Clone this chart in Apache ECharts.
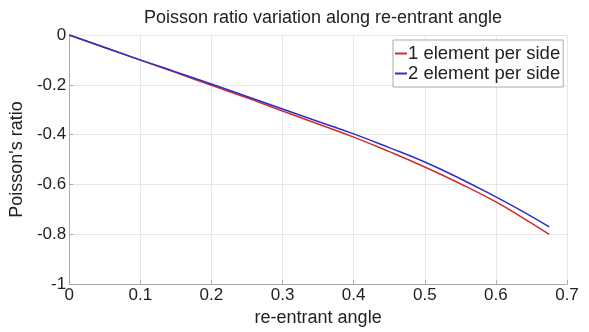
<!DOCTYPE html>
<html>
<head>
<meta charset="utf-8">
<script src="https://cdn.jsdelivr.net/npm/echarts@6/dist/echarts.min.js"></script>
<style>html,body{margin:0;padding:0;background:#fff;}#c{width:589px;height:332px;}</style>
</head>
<body>
<div id="c"></div>
<script>
const angles = [0, 0.05, 0.1, 0.15, 0.2, 0.25, 0.3, 0.35, 0.4, 0.45, 0.5, 0.55, 0.6, 0.635, 0.675];
const oneElement = [0, -0.05, -0.101, -0.151, -0.202, -0.252, -0.305, -0.357, -0.41, -0.468, -0.53, -0.597, -0.67, -0.729, -0.80];
const twoElement = [0, -0.05, -0.1, -0.148, -0.197, -0.247, -0.297, -0.347, -0.397, -0.452, -0.51, -0.577, -0.65, -0.704, -0.77];
const seriesNames = ['1 element per side', '2 element per side'];
const xTicks = ['0', '0.1', '0.2', '0.3', '0.4', '0.5', '0.6', '0.7'];
const yTicks = ['-1', '-0.8', '-0.6', '-0.4', '-0.2', '0'];

const font = 'Liberation Sans, Arial, sans-serif';
const chart = echarts.init(document.getElementById('c'), null, {renderer: 'canvas'});
chart.setOption({
  animation: false,
  backgroundColor: '#fff',
  title: {
    text: 'Poisson ratio variation along re-entrant angle',
    left: 318, top: 4, textAlign: 'center',
    textStyle: {fontFamily: font, fontSize: 18, fontWeight: 'normal', color: '#222'}
  },
  legend: {
    orient: 'vertical', left: 393, top: 40,
    backgroundColor: '#fff', borderColor: '#aaa', borderWidth: 1,
    padding: [4, 3, 4, 2], itemGap: 1,
    itemWidth: 12, itemHeight: 2, icon: 'rect',
    textStyle: {fontFamily: font, fontSize: 18.5, lineHeight: 18, color: '#222', padding: [0, 0, 0, -4]},
    data: seriesNames
  },
  grid: {left: 66, right: 22, top: 35, bottom: 39, containLabel: false},
  xAxis: {
    type: 'value', min: 0, max: 0.7, interval: 0.1,
    name: 're-entrant angle', nameLocation: 'middle', nameGap: 24,
    nameTextStyle: {fontFamily: font, fontSize: 18, color: '#222'},
    axisLine: {onZero: false, lineStyle: {color: '#aaa'}},
    axisTick: {inside: true, length: 4, lineStyle: {color: '#aaa'}},
    axisLabel: {fontFamily: font, fontSize: 17, color: '#222', margin: 3,
      formatter: v => xTicks[Math.round(v * 10)]},
    splitLine: {show: true, lineStyle: {color: '#e6e6e6', width: 1}}
  },
  yAxis: {
    type: 'value', min: -1, max: 0, interval: 0.2,
    name: "Poisson's ratio", nameLocation: 'middle', nameGap: 34,
    nameTextStyle: {fontFamily: font, fontSize: 18, color: '#222'},
    axisLine: {show: true, lineStyle: {color: '#aaa'}},
    axisTick: {show: true, inside: true, length: 4, lineStyle: {color: '#aaa'}},
    axisLabel: {fontFamily: font, fontSize: 17, color: '#222', margin: 3,
      formatter: v => yTicks[Math.round((v + 1) * 5)]},
    splitLine: {show: true, lineStyle: {color: '#e6e6e6', width: 1}}
  },
  series: [
    {name: seriesNames[0], type: 'line', smooth: true, showSymbol: false,
      data: angles.map((a, i) => [a, oneElement[i]]),
      lineStyle: {color: '#d02c2c', width: 1.5}, itemStyle: {color: '#d02c2c'}},
    {name: seriesNames[1], type: 'line', smooth: true, showSymbol: false,
      data: angles.map((a, i) => [a, twoElement[i]]),
      lineStyle: {color: '#2f2fc6', width: 1.5}, itemStyle: {color: '#2f2fc6'}}
  ]
});
</script>
</body>
</html>
